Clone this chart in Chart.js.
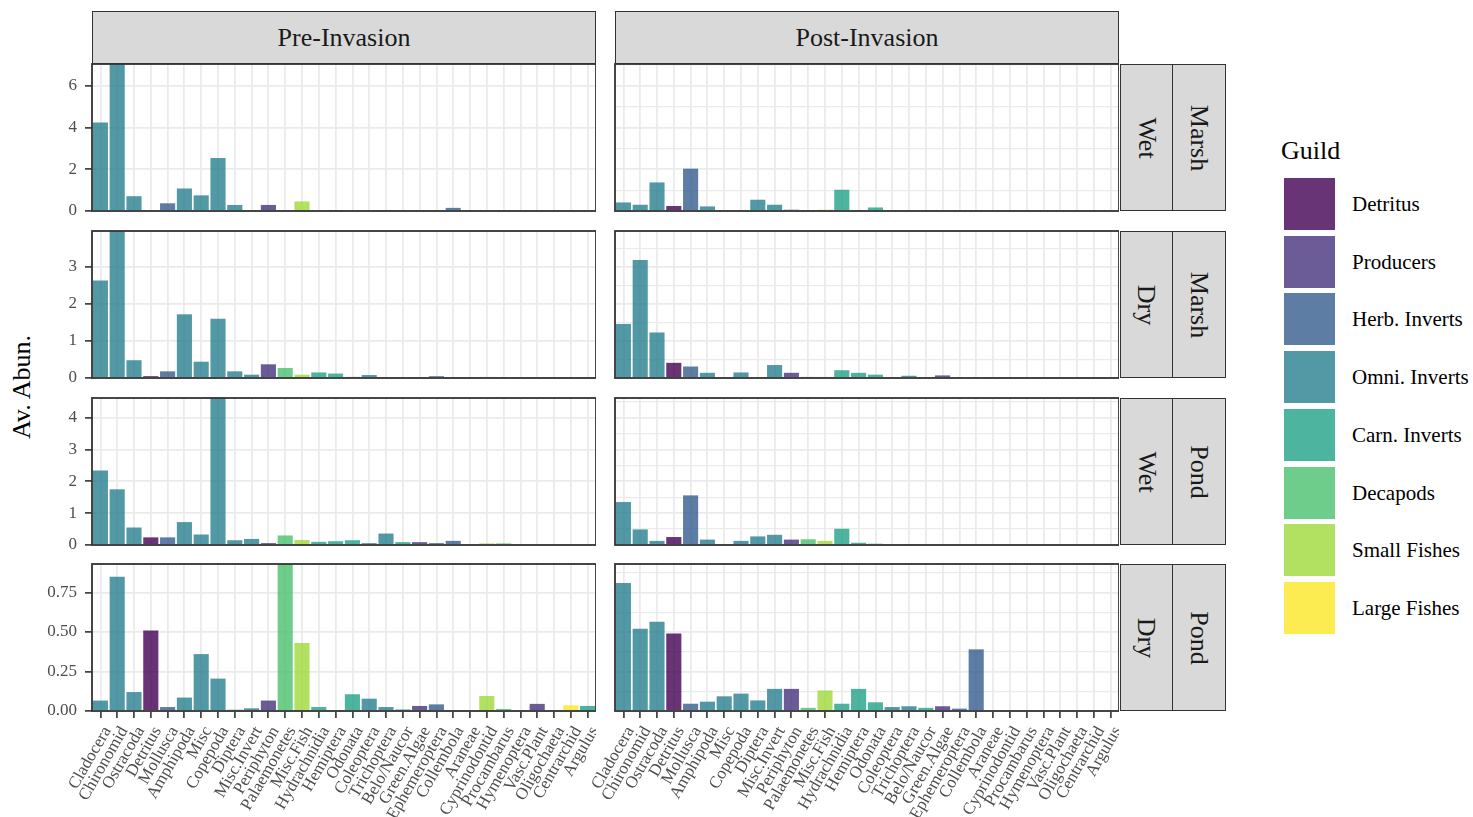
<!DOCTYPE html>
<html><head><meta charset="utf-8">
<script src="https://cdn.jsdelivr.net/npm/chart.js@4.4.1/dist/chart.umd.min.js"></script>
<style>
body{margin:0;width:1473px;height:817px;background:#fff;position:relative;overflow:hidden;font-family:'Liberation Serif',serif;}
canvas{position:absolute;}
.strip{position:absolute;background:#D9D9D9;border:1.8px solid #333;box-sizing:border-box;display:flex;align-items:center;justify-content:center;color:#1A1A1A;font-size:26px;}
.vt{transform:rotate(90deg);white-space:nowrap;}
.ytitle{position:absolute;left:22px;top:387px;transform:translate(-50%,-50%) rotate(-90deg);font-size:26px;color:#000;white-space:nowrap;}
.ltitle{position:absolute;left:1281px;top:136px;font-size:26px;line-height:30px;color:#000;}
.lkey{position:absolute;left:1284px;width:51px;height:52px;}
.llab{position:absolute;left:1352px;font-size:21px;line-height:52px;color:#000;white-space:nowrap;}
</style></head><body>
<div class="ytitle">Av. Abun.</div>
<script>
// ---------- data ----------
const categories = ['Cladocera','Chironomid','Ostracoda','Detritus','Mollusca','Amphipoda','Misc','Copepoda','Diptera','Misc.Invert','Periphyton','Palaemonetes','Misc.Fish','Hydrachnidia','Hemiptera','Odonata','Coleoptera','Trichoptera','Belo/Naucor','Green.Algae','Ephemeroptera','Collembola','Araneae','Cyprinodontid','Procambarus','Hymenoptera','Vasc.Plant','Oligochaeta','Centrarchid','Argulus'];
const categoryGuild = ['Omni. Inverts','Omni. Inverts','Omni. Inverts','Detritus','Herb. Inverts','Omni. Inverts','Omni. Inverts','Omni. Inverts','Omni. Inverts','Omni. Inverts','Producers','Decapods','Small Fishes','Carn. Inverts','Carn. Inverts','Carn. Inverts','Omni. Inverts','Omni. Inverts','Carn. Inverts','Producers','Herb. Inverts','Herb. Inverts','Carn. Inverts','Small Fishes','Decapods','Carn. Inverts','Producers','Omni. Inverts','Large Fishes','Carn. Inverts'];
const guildNames = ['Detritus','Producers','Herb. Inverts','Omni. Inverts','Carn. Inverts','Decapods','Small Fishes','Large Fishes'];
const guildColors = ['rgba(68,1,84,0.8)','rgba(70,51,126,0.8)','rgba(54,92,141,0.8)','rgba(39,127,142,0.8)','rgba(31,161,135,0.8)','rgba(74,193,109,0.8)','rgba(159,218,58,0.8)','rgba(253,231,37,0.8)'];
const periods = ['Pre-Invasion','Post-Invasion'];
const seasons = ['Wet','Dry','Wet','Dry'];
const habitats = ['Marsh','Marsh','Pond','Pond'];

const preMarshWet  = [4.25,7.05,0.71,0,0.37,1.08,0.75,2.54,0.29,0,0.29,0,0.46,0,0.02,0.04,0,0.02,0,0,0.04,0.15,0,0,0,0,0,0,0,0];
const postMarshWet = [0.41,0.30,1.37,0.24,2.03,0.22,0,0,0.54,0.30,0.06,0,0.06,1.02,0.05,0.17,0,0,0.03,0,0,0,0,0,0,0,0,0,0,0];
const preMarshDry  = [2.63,3.97,0.48,0.05,0.18,1.72,0.44,1.60,0.18,0.09,0.37,0.27,0.09,0.15,0.12,0.03,0.08,0,0,0,0.05,0,0,0.03,0,0,0,0,0,0];
const postMarshDry = [1.46,3.19,1.23,0.41,0.31,0.14,0,0.15,0,0.35,0.14,0.03,0.03,0.21,0.14,0.09,0,0.06,0,0.07,0,0,0,0,0,0,0,0,0,0];
const prePondWet   = [2.34,1.75,0.55,0.24,0.24,0.72,0.33,4.62,0.15,0.19,0.06,0.30,0.16,0.10,0.12,0.15,0.06,0.36,0.09,0.09,0.06,0.13,0,0.05,0.05,0,0,0,0,0.03];
const postPondWet  = [1.35,0.49,0.13,0.25,1.56,0.17,0,0.13,0.27,0.32,0.17,0.18,0.13,0.51,0.07,0.04,0,0.02,0,0,0,0,0,0,0,0,0,0,0,0];
const prePondDry   = [0.066,0.85,0.12,0.51,0.025,0.085,0.36,0.205,0.008,0.017,0.066,0.93,0.43,0.025,0,0.106,0.078,0.025,0.01,0.032,0.042,0,0,0.095,0.013,0,0.045,0,0.036,0.032];
const postPondDry  = [0.81,0.52,0.565,0.49,0.046,0.059,0.093,0.11,0.067,0.14,0.14,0.02,0.13,0.046,0.14,0.055,0.025,0.03,0.02,0.03,0.015,0.39,0,0,0,0,0,0,0,0];

const rowMajorTicks = [[0,2,4,6],[0,1,2,3],[0,1,2,3,4],[0,0.25,0.5,0.75]];
const rowTickLabels = [['0','2','4','6'],['0','1','2','3'],['0','1','2','3','4'],['0.00','0.25','0.50','0.75']];
const rowMinorStep  = [1,0.5,0.5,0.125];

const panelData = [[preMarshWet,postMarshWet],[preMarshDry,postMarshDry],[prePondWet,postPondWet],[prePondDry,postPondDry]];

// ---------- layout ----------
const panelX = [92,615], panelW = 504;
const panelY = [64,231,398,564], panelH = 147;
const axisW = 52, xAxisH = 106, pad = 10;
const FONT = 'Liberation Serif';

const borderPlugin = {id:'panelBorder', afterDraw(chart){
  const a = chart.chartArea, ctx = chart.ctx;
  ctx.save(); ctx.strokeStyle = '#333'; ctx.lineWidth = 1.8;
  ctx.strokeRect(a.left, a.top, a.right - a.left, a.bottom - a.top);
  ctx.restore();
}};

const barColors = categoryGuild.map(g => guildColors[guildNames.indexOf(g)]);

for (let r = 0; r < 4; r++) {
  const rowMax = Math.max(...panelData[r][0], ...panelData[r][1]);
  const tickVals = [];
  for (let k = 0; k * rowMinorStep[r] <= rowMax + 1e-9; k++) tickVals.push(k * rowMinorStep[r]);
  const majorIdx = v => rowMajorTicks[r].findIndex(m => Math.abs(m - v) < 1e-9);
  for (let c = 0; c < 2; c++) {
    const cv = document.createElement('canvas');
    const w = axisW + panelW, h = pad + panelH + (r === 3 ? xAxisH : pad);
    cv.width = w; cv.height = h;
    cv.style.left = (panelX[c] - axisW) + 'px';
    cv.style.top = (panelY[r] - pad) + 'px';
    cv.style.width = w + 'px'; cv.style.height = h + 'px';
    document.body.appendChild(cv);
    new Chart(cv, {
      type: 'bar',
      data: {labels: categories, datasets: [{data: panelData[r][c], backgroundColor: barColors, borderWidth: 0, barPercentage: 0.9, categoryPercentage: 1}]},
      options: {
        responsive: false, animation: false, devicePixelRatio: 1,
        layout: {padding: {top: pad, bottom: r === 3 ? 0 : pad, left: 0, right: 0}},
        plugins: {legend: {display: false}, tooltip: {enabled: false}},
        scales: {
          x: {
            offset: true,
            grid: {offset: false, color: '#EBEBEB', lineWidth: 1.8, drawTicks: r === 3, tickLength: 7, tickColor: '#333', tickWidth: 1.6},
            border: {display: false},
            ticks: {display: r === 3, autoSkip: false, minRotation: 60, maxRotation: 60, padding: 5, labelOffset: 7, color: '#4D4D4D', font: {family: FONT, size: 17}},
            afterFit: s => { s.height = r === 3 ? xAxisH : 0; s.paddingLeft = 0; s.paddingRight = 0; }
          },
          y: {
            min: 0, max: rowMax,
            afterBuildTicks: s => { s.ticks = tickVals.map(v => ({value: v})); },
            grid: {
              color: '#EBEBEB',
              lineWidth: ctx => (majorIdx(ctx.tick.value) >= 0 ? 1.8 : 1.2),
              drawTicks: c === 0, tickLength: 7, tickWidth: 1.6,
              tickColor: ctx => (majorIdx(ctx.tick.value) >= 0 ? '#333' : 'rgba(0,0,0,0)')
            },
            border: {display: false},
            ticks: {display: c === 0, padding: 8, color: '#4D4D4D', font: {family: FONT, size: 17},
              callback: v => { const k = majorIdx(v); return k >= 0 ? rowTickLabels[r][k] : ''; }},
            afterFit: s => { s.width = axisW; s.paddingTop = 0; s.paddingBottom = 0; }
          }
        }
      },
      plugins: [borderPlugin]
    });
  }
}

// ---------- strips ----------
function addDiv(cls, style, html) {
  const d = document.createElement('div'); d.className = cls;
  Object.assign(d.style, style); d.innerHTML = html; document.body.appendChild(d); return d;
}
for (let c = 0; c < 2; c++) {
  addDiv('strip', {left: panelX[c] + 'px', top: '11px', width: panelW + 'px', height: '53px'}, periods[c]);
}
for (let r = 0; r < 4; r++) {
  addDiv('strip', {left: '1120px', top: panelY[r] + 'px', width: '53px', height: panelH + 'px'}, '<span class="vt">' + seasons[r] + '</span>');
  addDiv('strip', {left: '1172px', top: panelY[r] + 'px', width: '54px', height: panelH + 'px'}, '<span class="vt">' + habitats[r] + '</span>');
}
// ---------- legend ----------
addDiv('ltitle', {}, 'Guild');
guildNames.forEach((g, i) => {
  const top = 178 + i * 57.7;
  addDiv('lkey', {top: top + 'px', background: guildColors[i]}, '');
  addDiv('llab', {top: top + 'px'}, g);
});
</script>
</body></html>
